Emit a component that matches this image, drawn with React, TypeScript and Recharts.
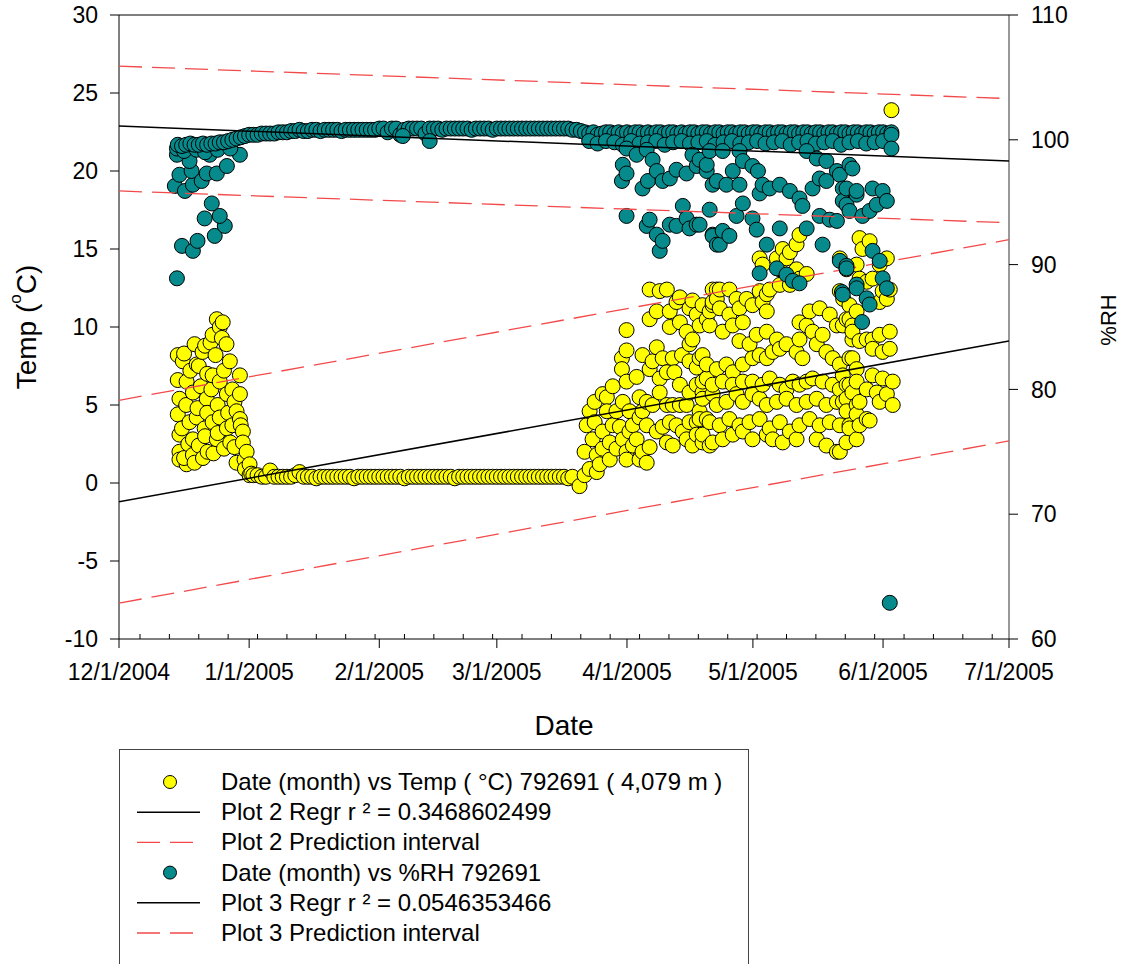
import React from "react";
import { ScatterChart, Scatter, XAxis, YAxis, ReferenceLine } from "recharts";

type Pt = [number, number];

// x values are days counted from 12/1/2004
const dateTicks = [0, 31, 62, 90, 121, 151, 182, 212];
const dateLabels = [
  "12/1/2004",
  "1/1/2005",
  "2/1/2005",
  "3/1/2005",
  "4/1/2005",
  "5/1/2005",
  "6/1/2005",
  "7/1/2005",
];
const weekTicks = [
  5, 12, 19, 26, 33, 40, 47, 54, 61, 68, 75, 82, 89, 96, 103, 110, 117, 124,
  131, 138, 145, 152, 159, 166, 173, 180, 187, 194, 201, 208,
];
const tempTicks = [-10, -5, 0, 5, 10, 15, 20, 25, 30];
const rhTicks = [60, 70, 80, 90, 100, 110];

const tempDec: Pt[] = [
  [14.0, 8.2], [15.2, 7.8], [14.0, 6.6], [14.4, 5.4], [14.0, 4.4], [14.4, 3.1],
  [14.4, 2.0], [14.4, 1.5], [15.5, 8.3], [16.1, 6.5], [16.1, 1.2], [15.5, 1.6],
  [15.0, 3.5], [16.0, 5.0], [16.5, 2.5], [16.8, 3.9], [17.0, 7.2], [17.6, 5.8],
  [17.6, 2.8], [17.6, 1.8], [18.0, 8.9], [18.5, 7.6], [18.5, 4.2], [18.0, 1.3],
  [18.7, 4.8], [19.0, 7.5], [19.0, 2.4], [19.5, 6.2], [19.9, 8.4], [20.0, 1.6],
  [20.4, 3.5], [20.5, 8.8], [20.5, 3.0], [20.9, 5.4], [21.0, 7.0], [21.0, 4.5],
  [21.1, 2.0], [21.8, 9.0], [22.0, 6.0], [22.3, 9.5], [22.3, 6.9], [22.3, 3.9],
  [22.5, 1.9], [23.0, 8.2], [23.3, 10.5], [23.3, 2.8], [23.5, 5.0], [23.5, 3.2],
  [24.0, 10.0], [24.0, 4.2], [24.0, 6.5], [24.5, 9.3], [24.7, 10.3], [25.0, 7.2],
  [25.0, 2.2], [25.6, 8.9], [25.7, 5.7], [25.7, 3.5], [26.0, 4.5], [26.4, 7.8],
  [26.5, 2.6], [27.0, 6.0], [27.0, 3.7], [27.5, 5.2], [27.5, 2.3], [28.0, 4.6],
  [28.0, 1.3], [28.8, 6.9], [28.8, 5.7], [28.8, 4.1], [29.0, 3.7], [29.5, 3.3],
  [29.5, 2.6], [29.9, 1.5], [30.0, 0.9], [30.4, 2.0], [31.1, 1.2], [31.1, 0.5],
  [31.5, 0.6],
];

// one reading per day from 1/2/2005 to 3/19/2005
const tempFlatStart = 32;
const tempFlat = [
  0.5, 0.5, 0.4, 0.4, 0.8, 0.4, 0.4, 0.4, 0.4, 0.4,
  0.5, 0.7, 0.4, 0.4, 0.4, 0.3, 0.4, 0.4, 0.4, 0.4,
  0.4, 0.4, 0.4, 0.4, 0.3, 0.4, 0.4, 0.4, 0.4, 0.4,
  0.4, 0.4, 0.4, 0.4, 0.4, 0.4, 0.3, 0.4, 0.4, 0.4,
  0.4, 0.4, 0.4, 0.4, 0.4, 0.4, 0.4, 0.4, 0.3, 0.4,
  0.4, 0.4, 0.4, 0.4, 0.4, 0.4, 0.4, 0.4, 0.4, 0.4,
  0.4, 0.4, 0.4, 0.4, 0.4, 0.4, 0.4, 0.4, 0.4, 0.4,
  0.4, 0.4, 0.4, 0.4, 0.4, 0.3, 0.4,
];

const tempSpring: Pt[] = [
  [109.7, -0.2], [110.9, 0.5], [110.9, 2.0], [111.4, 3.7], [112.1, 4.6], [112.1, 0.9],
  [112.8, 2.8], [113.3, 5.2], [113.3, 3.9], [113.8, 1.8], [113.8, 0.7], [114.5, 1.2],
  [115.2, 5.7], [115.2, 3.3], [115.2, 2.2], [116.2, 5.5], [116.2, 4.6], [116.9, 1.5],
  [116.9, 2.6], [117.6, 3.7], [117.6, 6.2], [118.5, 4.6], [118.5, 2.2], [119.3, 3.6],
  [119.8, 8.0], [119.8, 7.3], [120.0, 5.2], [120.0, 2.8], [120.9, 9.8], [120.9, 8.5],
  [120.9, 6.5], [120.9, 2.0], [120.9, 1.5], [121.6, 4.6], [121.6, 3.3], [122.4, 3.7],
  [122.4, 2.4], [123.3, 2.8], [123.3, 6.8], [124.0, 1.5], [124.0, 5.5], [124.0, 4.2],
  [124.7, 2.0], [124.7, 4.6], [124.7, 8.2], [125.7, 1.3], [125.7, 5.2], [125.7, 3.7],
  [126.4, 7.3], [126.4, 12.4], [126.4, 10.5], [126.4, 2.3], [127.1, 7.8], [127.1, 5.0],
  [128.1, 11.0], [128.1, 8.7], [128.1, 3.3], [128.8, 6.7], [128.8, 12.3], [128.8, 5.8],
  [129.5, 8.0], [129.5, 3.6], [130.5, 7.1], [130.5, 12.4], [130.5, 5.0], [130.5, 2.6],
  [131.2, 11.0], [131.2, 3.9], [131.2, 10.0], [131.9, 5.0], [131.9, 2.4], [131.9, 8.0],
  [132.3, 7.1], [132.8, 11.6], [132.8, 3.7], [133.6, 10.3], [133.6, 5.0], [133.6, 6.3],
  [133.6, 11.9], [134.1, 8.2], [134.3, 3.3], [135.2, 9.7], [135.2, 5.0], [135.2, 2.8],
  [135.9, 11.2], [135.9, 3.9], [135.9, 5.8], [135.9, 7.8], [135.9, 8.9], [136.6, 9.2],
  [136.6, 2.4], [136.6, 11.7], [137.6, 10.8], [137.6, 3.9], [137.6, 6.3], [137.6, 7.4],
  [137.6, 3.1], [138.3, 10.1], [138.3, 4.6], [138.3, 8.0], [138.3, 4.1], [139.0, 5.8],
  [139.0, 2.6], [139.0, 8.2], [139.0, 11.4], [139.0, 6.5], [139.0, 5.4], [139.0, 3.1],
  [140.0, 4.1], [140.0, 6.7], [140.0, 10.5], [140.0, 7.6], [140.7, 10.1], [140.7, 2.4],
  [140.7, 11.0], [140.7, 3.9], [141.4, 5.7], [141.4, 12.4], [141.4, 11.4], [141.4, 11.6],
  [141.4, 6.3], [141.4, 2.6], [142.4, 12.4], [142.4, 11.8], [142.4, 7.3], [142.4, 5.0],
  [143.1, 12.4], [143.1, 11.2], [143.1, 3.7], [143.8, 9.7], [143.8, 6.5], [143.8, 2.8],
  [144.7, 7.6], [144.7, 5.2], [145.4, 12.4], [145.4, 10.8], [145.4, 4.1], [146.2, 10.1],
  [146.2, 7.1], [146.2, 6.3], [146.2, 3.1], [147.1, 11.8], [147.1, 5.7], [147.8, 11.2],
  [147.8, 9.1], [147.8, 3.7], [148.6, 10.3], [148.6, 7.6], [148.6, 6.5], [148.6, 5.2],
  [148.6, 3.3], [149.5, 11.8], [150.2, 8.9], [150.2, 3.9], [150.9, 11.4], [150.9, 8.0],
  [150.9, 6.5], [150.9, 5.7], [150.9, 2.8], [151.9, 9.5], [152.6, 14.4], [152.6, 12.3],
  [152.6, 8.2], [152.6, 5.4], [152.6, 4.1], [153.3, 14.0], [153.3, 11.6], [153.3, 6.3],
  [154.3, 12.1], [154.3, 11.0], [154.3, 9.7], [154.3, 8.0], [154.3, 5.0], [154.3, 3.1],
  [155.0, 12.4], [155.0, 6.7], [155.0, 3.5], [155.7, 8.4], [155.7, 2.8], [156.7, 14.4],
  [156.7, 9.2], [156.7, 5.2], [157.4, 13.7], [157.4, 12.7], [157.4, 8.6], [157.4, 6.3],
  [157.4, 3.9], [158.1, 15.0], [158.1, 2.6], [159.0, 14.4], [159.0, 8.9], [159.0, 6.0],
  [159.0, 5.4], [159.8, 14.8], [159.8, 12.7], [159.8, 3.3], [160.5, 6.5], [161.4, 15.3],
  [161.4, 13.7], [161.4, 8.4], [161.4, 5.0], [161.4, 2.8], [162.1, 15.9], [162.1, 13.1],
  [162.1, 10.3], [162.1, 9.2], [162.1, 6.3], [162.1, 3.7], [162.8, 8.0], [163.8, 13.4],
  [163.8, 10.1], [163.8, 6.5], [163.8, 5.2], [164.5, 11.0], [164.5, 4.1], [165.2, 9.7],
  [165.2, 6.7], [166.2, 8.9], [166.2, 5.4], [166.2, 2.8], [166.9, 11.2], [166.9, 3.7],
  [167.6, 9.5], [167.6, 6.5], [168.5, 8.4], [168.5, 5.0], [168.5, 2.4], [169.3, 10.8],
  [169.3, 3.9], [170.0, 8.0], [170.0, 6.3], [171.0, 10.1], [171.0, 5.2], [171.0, 2.0],
  [171.7, 14.4], [171.7, 12.3], [171.7, 7.6], [171.7, 6.0], [171.7, 3.7], [171.7, 2.0],
  [172.4, 10.1], [172.4, 6.9], [172.4, 5.2], [172.5, 11.8], [173.3, 13.7], [173.3, 10.5],
  [173.3, 6.3], [173.3, 5.4], [173.3, 4.6], [173.3, 2.6], [174.0, 11.4], [174.0, 10.5],
  [174.0, 8.0], [174.0, 6.3], [174.0, 3.7], [174.0, 3.5], [174.7, 10.1], [174.7, 9.2],
  [174.7, 9.7], [174.7, 8.0], [174.7, 5.8], [175.7, 14.0], [175.7, 11.0], [175.7, 7.3],
  [175.7, 6.5], [175.7, 5.0], [175.7, 4.4], [175.7, 2.8], [176.4, 15.7], [176.4, 13.1],
  [176.4, 9.1], [176.4, 5.2], [176.4, 3.7], [177.1, 15.0], [178.1, 12.9], [178.1, 9.2],
  [178.1, 6.0], [178.1, 4.1], [178.8, 15.5], [178.8, 4.0], [179.5, 13.1], [179.5, 9.2],
  [179.5, 8.6], [179.5, 6.9], [180.5, 5.8], [181.2, 14.0], [181.2, 11.6], [181.2, 9.5],
  [181.2, 5.2], [181.9, 12.3], [181.9, 8.4], [181.9, 6.7], [182.9, 14.4], [182.9, 11.8],
  [182.9, 5.7], [183.6, 12.4], [183.6, 9.7], [183.6, 8.6], [184.0, 23.9], [184.3, 6.5],
  [184.3, 5.0],
];

const rhDec: Pt[] = [
  [13.8, 88.9], [15.0, 91.5], [17.6, 91.1], [18.7, 91.9], [22.8, 92.3], [25.2, 93.1],
  [24.0, 93.9], [20.4, 93.7], [22.1, 94.9], [13.3, 96.3], [15.7, 95.9], [17.6, 96.4],
  [14.4, 97.2], [17.3, 97.5], [19.7, 96.7], [20.9, 97.3], [23.3, 97.3], [25.7, 97.9],
  [16.8, 98.3], [28.8, 98.8], [21.6, 98.8], [13.8, 98.8], [13.8, 99.3], [15.5, 99.1],
  [18.5, 99.2], [20.5, 99.0], [23.5, 99.2], [26.5, 99.3], [14.0, 99.6], [15.0, 99.5],
  [16.0, 99.6], [17.0, 99.7], [18.0, 99.6], [19.0, 99.6], [20.0, 99.7], [21.0, 99.6],
  [22.0, 99.7], [23.0, 99.7], [24.0, 99.8], [25.0, 99.8], [26.0, 99.9], [27.0, 100.0],
  [28.0, 100.1], [29.0, 100.2], [30.0, 100.3], [31.0, 100.4],
];

// one reading per day from 1/2/2005 to 6/3/2005 along the saturated band
const rhBandStart = 32;
const rhBand = [
  100.4, 100.4, 100.5, 100.5, 100.5, 100.5, 100.6, 100.6, 100.6,
  100.7, 100.7, 100.8, 100.7, 100.7, 100.8, 100.8, 100.7, 100.8, 100.8,
  100.8, 100.8, 100.7, 100.8, 100.8, 100.8, 100.8, 100.8, 100.8, 100.8,
  100.8, 100.9, 100.9, 100.6, 100.9, 100.9, 100.4, 100.8, 100.9, 100.9,
  100.9, 100.9, 100.5, 100.9, 100.9, 100.9, 100.8, 100.9, 100.9, 100.9,
  100.9, 100.9, 100.9, 100.8, 100.9, 100.9, 100.9, 100.9, 100.8, 100.9,
  100.9, 100.9, 100.9, 100.9, 100.9, 100.9, 100.9, 100.9, 100.9, 100.9,
  100.9, 100.9, 100.9, 100.9, 100.9, 100.9, 100.9, 100.8, 100.8, 100.7,
  100.6, 100.5, 100.6, 100.4, 100.5, 100.6, 100.6, 100.5, 100.6, 100.5,
  100.6, 100.5, 100.6, 100.6, 100.5, 100.6, 100.5, 100.6, 100.6, 100.5,
  100.6, 100.6, 100.5, 100.6, 100.5, 100.6, 100.6, 100.5, 100.6, 100.6,
  100.5, 100.6, 100.6, 100.5, 100.6, 100.6, 100.5, 100.6, 100.6, 100.5,
  100.6, 100.6, 100.5, 100.6, 100.6, 100.5, 100.6, 100.6, 100.5, 100.6,
  100.6, 100.5, 100.6, 100.6, 100.5, 100.6, 100.6, 100.5, 100.6, 100.6,
  100.5, 100.6, 100.6, 100.5, 100.6, 100.6, 100.5, 100.6, 100.6, 100.5,
  100.6, 100.6, 100.5, 100.6,
];

const rhBandLow: Pt[] = [
  [67.6, 100.3], [74.0, 99.9], [112, 99.9], [114, 99.7], [116, 99.9], [118, 99.8],
  [120, 99.6], [122, 99.9], [124, 99.7], [126, 99.8], [128, 99.9], [130, 99.6],
  [132, 99.8], [134, 99.9], [136, 99.7], [138, 99.8], [140, 99.9], [142, 99.6],
  [144, 99.8], [146, 99.9], [148, 99.7], [150, 99.8], [152, 99.9], [154, 99.7],
  [156, 99.8], [158, 99.9], [160, 99.6], [162, 99.8], [164, 99.9], [166, 99.7],
  [168, 99.8], [170, 99.9], [172, 99.6], [174, 99.8], [176, 99.9], [178, 99.7],
  [180, 99.8], [182, 99.9],
];

const rhSpring: Pt[] = [
  [119.8, 96.7], [120.0, 98.0], [120.9, 99.3], [120.9, 97.3], [120.9, 93.9], [123.3, 98.8],
  [124.7, 96.1], [125.7, 99.2], [125.7, 93.1], [126.0, 96.7], [126.4, 93.6], [127.1, 98.4],
  [128.1, 97.5], [128.1, 92.4], [128.8, 91.1], [129.5, 96.7], [129.5, 91.9], [131.2, 96.9],
  [131.2, 93.2], [132.8, 97.6], [132.8, 93.1], [134.3, 94.7], [135.2, 97.3], [135.2, 93.7],
  [135.9, 92.9], [136.6, 98.8], [137.6, 97.9], [137.6, 93.2], [138.3, 98.4], [138.3, 93.2],
  [140.0, 97.5], [140.0, 98.0], [140.7, 99.1], [140.7, 94.4], [141.4, 96.4], [141.4, 92.4],
  [141.4, 92.3], [142.4, 96.7], [142.4, 91.6], [143.1, 91.6], [143.8, 99.1], [143.8, 92.7],
  [144.7, 96.4], [145.4, 92.3], [146.2, 97.5], [147.1, 93.9], [147.8, 99.1], [147.8, 96.4],
  [148.6, 98.3], [148.6, 94.9], [150.9, 97.9], [150.9, 93.7], [151.9, 92.8], [152.2, 97.5],
  [152.6, 95.7], [152.6, 89.3], [153.3, 96.4], [154.3, 91.6], [155.0, 96.1], [156.7, 89.7],
  [157.4, 96.4], [157.4, 92.9], [159.0, 89.2], [159.8, 95.9], [160.5, 88.7], [162.1, 95.3],
  [162.1, 88.5], [162.8, 94.7], [163.8, 99.1], [163.8, 92.9], [165.2, 96.1], [166.2, 98.5],
  [166.9, 96.9], [166.9, 93.9], [167.6, 91.6], [168.5, 98.3], [168.5, 96.7], [169.3, 93.6],
  [171.0, 97.5], [171.0, 93.5], [171.7, 97.2], [171.7, 90.3], [172.2, 87.8], [172.4, 96.1],
  [172.4, 95.1], [172.4, 87.6], [173.3, 96.1], [173.3, 94.8], [173.3, 89.9], [173.3, 89.7],
  [174.0, 98.0], [174.0, 94.3], [174.7, 97.7], [175.7, 95.6], [175.7, 95.9], [175.7, 88.4],
  [175.7, 88.1], [177.0, 85.4], [177.1, 93.9], [178.1, 87.3], [178.8, 94.3], [178.8, 86.8],
  [179.5, 96.1], [179.5, 91.1], [180.5, 94.8], [181.2, 90.3], [181.9, 95.9], [181.9, 88.9],
  [182.9, 95.1], [182.9, 88.1], [183.6, 62.9], [184.0, 100.4], [184.0, 99.3],
];

// regression fits and prediction intervals (end points)
const tempRegr: Pt[] = [[0, -1.2], [212, 9.1]];
const tempPiUpper: Pt[] = [[0, 5.3], [212, 15.6]];
const tempPiLower: Pt[] = [[0, -7.7], [212, 2.7]];
const rhRegr: Pt[] = [[0, 101.1], [212, 98.3]];
const rhPiUpper: Pt[] = [[0, 105.9], [212, 103.3]];
const rhPiLower: Pt[] = [[0, 95.9], [212, 93.35]];

const toXY = (pts: Pt[]) => pts.map(([x, y]) => ({ x, y }));

const tempData = toXY([
  ...tempDec,
  ...tempFlat.map((v, i): Pt => [tempFlatStart + i, v]),
  ...tempSpring,
]);
const rhData = toXY([
  ...rhDec,
  ...rhBand.map((v, i): Pt => [rhBandStart + i, v]),
  ...rhBandLow,
  ...rhSpring,
]);

const allDateTicks = [...dateTicks, ...weekTicks].sort((a, b) => a - b);

const YELLOW = "#FFFF00";
const TEAL = "#078A8C";
const RED = "#F24A4A";
const FONT = '"Liberation Sans", Arial, sans-serif';

const YellowDot = (p: any) => (
  <circle cx={p.cx} cy={p.cy} r={7.5} fill={YELLOW} stroke="#000" strokeWidth={1} />
);
const TealDot = (p: any) => (
  <circle cx={p.cx} cy={p.cy} r={7.5} fill={TEAL} stroke="#000" strokeWidth={1} />
);
const NoDot = () => <g />;

const renderDateTick = (props: any) => {
  const { x, y, payload } = props;
  const i = dateTicks.indexOf(payload.value);
  if (i === -1) {
    return <line x1={x} x2={x} y1={y} y2={y - 5} stroke="#000" />;
  }
  return (
    <g>
      <line x1={x} x2={x} y1={y} y2={y + 9} stroke="#000" />
      <text x={x} y={y + 41} textAnchor="middle" fontSize={23} fill="#000">
        {dateLabels[i]}
      </text>
    </g>
  );
};

const TempTitle = (props: any) => {
  const vb = props.viewBox ?? { x: 0, y: 15, width: 119, height: 624 };
  const cx = vb.x + 26;
  const cy = vb.y + vb.height / 2;
  return (
    <text
      x={cx}
      y={cy}
      transform={`rotate(-90 ${cx} ${cy})`}
      textAnchor="middle"
      dominantBaseline="central"
      fontSize={28}
      fill="#000"
    >
      Temp (
      <tspan fontSize={17} dy={-11}>
        o
      </tspan>
      <tspan dy={11}>C)</tspan>
    </text>
  );
};

const RhTitle = (props: any) => {
  const vb = props.viewBox ?? { x: 1009, y: 15, width: 122, height: 624 };
  const cx = vb.x + 99;
  const cy = vb.y + vb.height / 2 - 7;
  return (
    <text
      x={cx}
      y={cy}
      transform={`rotate(-90 ${cx} ${cy})`}
      textAnchor="middle"
      dominantBaseline="central"
      fontSize={22}
      fill="#000"
    >
      %RH
    </text>
  );
};

interface LegendRow {
  label: string;
  kind: "dot" | "line" | "dash";
  color: string;
}

const legendRows: LegendRow[] = [
  { label: "Date (month) vs Temp ( °C) 792691 ( 4,079 m )", kind: "dot", color: YELLOW },
  { label: "Plot 2 Regr r ² = 0.3468602499", kind: "line", color: "#000" },
  { label: "Plot 2 Prediction interval", kind: "dash", color: RED },
  { label: "Date (month) vs %RH 792691", kind: "dot", color: TEAL },
  { label: "Plot 3 Regr r ² = 0.0546353466", kind: "line", color: "#000" },
  { label: "Plot 3 Prediction interval", kind: "dash", color: RED },
];

const LegendBox = () => (
  <svg
    width={1131}
    height={964}
    style={{ position: "absolute", left: 0, top: 0, pointerEvents: "none" }}
  >
    <rect x={119.5} y={749.5} width={629} height={260} fill="none" stroke="#444" strokeWidth={1} />
    {legendRows.map((row, i) => {
      const cy = 782 + i * 30.2;
      return (
        <g key={row.label}>
          {row.kind === "dot" ? (
            <circle cx={170} cy={cy} r={6.5} fill={row.color} stroke="#000" strokeWidth={1} />
          ) : (
            <line
              x1={137}
              x2={200}
              y1={cy}
              y2={cy}
              stroke={row.color}
              strokeWidth={row.kind === "line" ? 1.5 : 1.3}
              strokeDasharray={row.kind === "dash" ? "23 10" : undefined}
            />
          )}
          <text x={221} y={cy + 8} fontSize={24} fill="#000">
            {row.label}
          </text>
        </g>
      );
    })}
  </svg>
);

const lineStyle = { stroke: "#000", strokeWidth: 1.5 };
const dashStyle = { stroke: RED, strokeWidth: 1.3, strokeDasharray: "23 10" };

export default function App() {
  return (
    <div
      style={{
        position: "absolute",
        left: 0,
        top: 0,
        width: 1131,
        height: 964,
        background: "#fff",
        fontFamily: FONT,
        overflow: "hidden",
      }}
    >
      <ScatterChart
        width={1131}
        height={765}
        margin={{ top: 15, right: 0, bottom: 0, left: 0 }}
      >
        <XAxis
          xAxisId="d"
          type="number"
          dataKey="x"
          domain={[0, 212]}
          ticks={allDateTicks}
          interval={0}
          tick={renderDateTick}
          tickLine={false}
          tickSize={0}
          tickMargin={0}
          height={126}
          allowDataOverflow
          axisLine={{ stroke: "#000" }}
          label={{
            value: "Date",
            position: "insideBottom",
            offset: 30,
            fontSize: 28,
            fill: "#000",
          }}
        />
        <YAxis
          yAxisId="t"
          type="number"
          dataKey="y"
          domain={[-10, 30]}
          ticks={tempTicks}
          interval={0}
          width={119}
          tickSize={9}
          tickMargin={12}
          allowDataOverflow
          tick={{ fontSize: 23, fill: "#000" }}
          tickLine={{ stroke: "#000" }}
          axisLine={{ stroke: "#000" }}
          label={<TempTitle />}
        />
        <YAxis
          yAxisId="rh"
          orientation="right"
          type="number"
          dataKey="y"
          domain={[60, 110]}
          ticks={rhTicks}
          interval={0}
          width={122}
          tickSize={9}
          tickMargin={13}
          allowDataOverflow
          tick={{ fontSize: 23, fill: "#000" }}
          tickLine={{ stroke: "#000" }}
          axisLine={{ stroke: "#333" }}
          label={<RhTitle />}
        />
        <ReferenceLine xAxisId="d" yAxisId="t" y={30} stroke="#000" />

        <Scatter
          name="temp"
          xAxisId="d"
          yAxisId="t"
          data={tempData}
          shape={YellowDot}
          isAnimationActive={false}
        />
        <Scatter
          name="tempRegr"
          xAxisId="d"
          yAxisId="t"
          data={toXY(tempRegr)}
          shape={NoDot}
          line={lineStyle}
          isAnimationActive={false}
        />
        <Scatter
          name="tempPiUpper"
          xAxisId="d"
          yAxisId="t"
          data={toXY(tempPiUpper)}
          shape={NoDot}
          line={dashStyle}
          isAnimationActive={false}
        />
        <Scatter
          name="tempPiLower"
          xAxisId="d"
          yAxisId="t"
          data={toXY(tempPiLower)}
          shape={NoDot}
          line={dashStyle}
          isAnimationActive={false}
        />

        <Scatter
          name="rh"
          xAxisId="d"
          yAxisId="rh"
          data={rhData}
          shape={TealDot}
          isAnimationActive={false}
        />
        <Scatter
          name="rhRegr"
          xAxisId="d"
          yAxisId="rh"
          data={toXY(rhRegr)}
          shape={NoDot}
          line={lineStyle}
          isAnimationActive={false}
        />
        <Scatter
          name="rhPiUpper"
          xAxisId="d"
          yAxisId="rh"
          data={toXY(rhPiUpper)}
          shape={NoDot}
          line={dashStyle}
          isAnimationActive={false}
        />
        <Scatter
          name="rhPiLower"
          xAxisId="d"
          yAxisId="rh"
          data={toXY(rhPiLower)}
          shape={NoDot}
          line={dashStyle}
          isAnimationActive={false}
        />
      </ScatterChart>
      <LegendBox />
    </div>
  );
}
